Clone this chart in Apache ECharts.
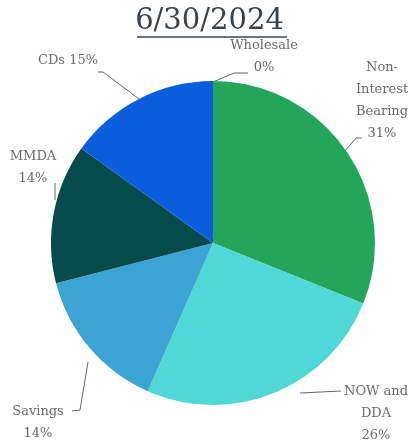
<!DOCTYPE html>
<html>
<head>
<meta charset="utf-8">
<script src="https://cdn.jsdelivr.net/npm/echarts@6/dist/echarts.min.js"></script>
<style>
  html, body { margin: 0; padding: 0; background: #fff; }
</style>
</head>
<body>
<div id="PieChart" style="width: 419px; height: 447px"></div>
<script>
const categories = ["Non-\nInterest\nBearing", "NOW and\nDDA", "Savings", "MMDA", "CDs", "Wholesale"];
const shares = [31.1, 25.5, 14.4, 13.9, 15.1, 0];
const colors = ["#23a55a", "#4fd8d5", "#3ba4d4", "#064b4b", "#0a5ddc", "#0a5ddc"];

// where each label sits (center of the text block)
const labelSpots = [
  [382, 101],
  [376, 414],
  [38, 423],
  [33, 168],
  [68, 61],
  [264, 57],
];
// leader line bends, label side first
const leaderPaths = [
  [[362, 138], [356, 138], [344, 152]],
  [[341, 391], [300, 393]],
  [[72, 411], [80, 410], [88, 362]],
  [[55, 183], [55, 200]],
  [[98, 72], [103, 72], [139, 99]],
  [[248, 73], [234, 73], [213, 82]],
];

const chart = echarts.init(document.getElementById("PieChart"));
const option = {
  title: {
    text: "6/30/2024",
    left: "center",
    top: 2,
    textStyle: {
      fontFamily: "DejaVu Serif",
      fontWeight: "normal",
      fontSize: 29,
      color: "#3a434b",
    },
  },
  graphic: [
    {
      type: "line",
      shape: { x1: 137, y1: 37, x2: 287, y2: 37 },
      style: { stroke: "#3a434b", lineWidth: 1.5 },
    },
  ],
  series: [
    {
      type: "pie",
      center: [213, 243],
      radius: 162,
      startAngle: 90,
      clockwise: true,
      avoidLabelOverlap: false,
      minShowLabelAngle: 0,
      data: categories.map((name, i) => ({
        name: name,
        value: shares[i],
        itemStyle: { color: colors[i] },
      })),
      label: {
        show: true,
        fontFamily: "DejaVu Serif",
        fontSize: 13,
        color: "#6b6b6b",
        lineHeight: 22,
        align: "center",
        formatter: (p) => {
          const pct = Math.round(p.value) + "%";
          if (p.name === "CDs") return "CDs " + pct;
          return p.name + "\n" + pct;
        },
      },
      labelLine: {
        show: true,
        length: 10,
        length2: 10,
        lineStyle: { color: "#666", width: 1 },
      },
      labelLayout: (params) => {
        const spot = labelSpots[params.dataIndex];
        return {
          x: spot[0],
          y: spot[1],
          align: "center",
          verticalAlign: "middle",
          labelLinePoints: leaderPaths[params.dataIndex],
        };
      },
    },
  ],
};
chart.setOption(option, true);
window.onresize = () => {
  chart.resize();
};
</script>
</body>
</html>
